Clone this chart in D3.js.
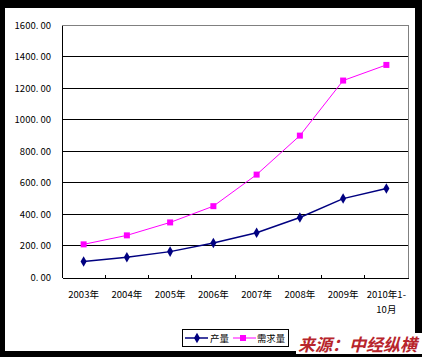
<!DOCTYPE html>
<html><head><meta charset="utf-8">
<script src="https://cdn.jsdelivr.net/npm/d3@7"></script>
<style>body{margin:0;background:#000;}svg{display:block;}</style>
</head><body>
<svg id="c" width="422" height="357"></svg>
<script>
const categories = ["2003年","2004年","2005年","2006年","2007年","2008年","2009年","2010年1-\n10月"];
const production = [101,128,164,218,284,380,500,564];
const demand = [210,267,349,452,652,899,1248,1347];
const yTicks = [0,200,400,600,800,1000,1200,1400,1600];
const seriesNames = ["产量","需求量"];
const sourceText = "来源：中经纵横";

const svg = d3.select("#c");
svg.append("rect").attr("x",0).attr("y",0).attr("width",422).attr("height",357).attr("fill","#000");
svg.append("rect").attr("x",5).attr("y",8).attr("width",410).attr("height",343).attr("fill","#fff");

const L=62, R=408, T=25, B=277.5;
const x = d3.scaleBand().domain(categories).range([L,R]);
const y = d3.scaleLinear().domain([0,1600]).range([B,T]);
const font = "'Noto Sans CJK SC', 'DejaVu Sans', sans-serif";

// gridlines
svg.append("g").selectAll("line").data(yTicks.filter(d=>d>0 && d<1600)).join("line")
  .attr("x1",L).attr("x2",R).attr("y1",d=>y(d)).attr("y2",d=>y(d))
  .attr("stroke","#000").attr("stroke-width",1).attr("shape-rendering","crispEdges");
// plot border top/right gray
svg.append("path").attr("d",`M${L},${y(1600)}H${R}V${B}`).attr("fill","none")
  .attr("stroke","#808080").attr("stroke-width",1).attr("shape-rendering","crispEdges");

// y axis
const yAxis = d3.axisLeft(y).tickValues(yTicks).tickSize(0).tickPadding(11)
  .tickFormat(d=>d3.format(".2f")(d).replace(".", ". "));
const gy = svg.append("g").attr("transform",`translate(${L},0)`).call(yAxis);
gy.select(".domain").attr("stroke","#000").attr("shape-rendering","crispEdges");
gy.selectAll("text").attr("font-family",font).attr("font-size",9.5).attr("fill","#000");

// x axis
const xAxis = d3.axisBottom(x).tickSize(0).tickFormat("");
const gx = svg.append("g").attr("transform",`translate(0,${B})`).call(xAxis);
gx.select(".domain").attr("stroke","#000").attr("shape-rendering","crispEdges");
// boundary ticks
const bounds = categories.map(c=>x(c)).concat([R]);
svg.append("g").selectAll("line").data(bounds.slice(1,-1)).join("line")
  .attr("x1",d=>d).attr("x2",d=>d).attr("y1",B).attr("y2",B-3)
  .attr("stroke","#000").attr("shape-rendering","crispEdges");
// x labels
const xl = svg.append("g");
categories.forEach(c=>{
  const lines = c.split("\n");
  const t = xl.append("text").attr("x",x(c)+x.bandwidth()/2).attr("y",298)
    .attr("text-anchor","middle").attr("font-family",font).attr("font-size",9.5).attr("fill","#000");
  lines.forEach((s,i)=>t.append("tspan").attr("x",x(c)+x.bandwidth()/2).attr("dy",i?15:0).text(s));
});

const cx = c=>x(c)+x.bandwidth()/2;
const line = d3.line().x((d,i)=>cx(categories[i])).y(d=>y(d));
const navy="#000080", mag="#FF00FF";
svg.append("path").datum(production).attr("d",line).attr("fill","none").attr("stroke",navy).attr("stroke-width",1.5);
svg.append("path").datum(demand).attr("d",line).attr("fill","none").attr("stroke",mag).attr("stroke-width",1);
const diamond = d3.symbol().type(d3.symbolDiamond).size(32);
svg.append("g").selectAll("path").data(production).join("path")
  .attr("d",diamond).attr("transform",(d,i)=>`translate(${cx(categories[i])},${y(d)})`).attr("fill",navy);
svg.append("g").selectAll("rect").data(demand).join("rect")
  .attr("x",(d,i)=>cx(categories[i])-3).attr("y",d=>y(d)-3).attr("width",6).attr("height",6).attr("fill",mag);

// legend
const lg = svg.append("g");
lg.append("rect").attr("x",182.5).attr("y",329.5).attr("width",106).attr("height",17)
  .attr("fill","#fff").attr("stroke","#000").attr("stroke-width",1);
lg.append("line").attr("x1",185).attr("x2",208).attr("y1",338).attr("y2",338).attr("stroke",navy).attr("stroke-width",1.5);
lg.append("path").attr("d",diamond).attr("transform","translate(197,338)").attr("fill",navy);
lg.append("text").attr("x",210).attr("y",342).attr("font-family",font).attr("font-size",9.5)
  .attr("textLength",19).attr("lengthAdjust","spacingAndGlyphs").text(seriesNames[0]);
lg.append("line").attr("x1",233).attr("x2",256).attr("y1",338).attr("y2",338).attr("stroke",mag).attr("stroke-width",1);
lg.append("rect").attr("x",240).attr("y",335).attr("width",6).attr("height",6).attr("fill",mag);
lg.append("text").attr("x",257).attr("y",342).attr("font-family",font).attr("font-size",9.5)
  .attr("textLength",28).attr("lengthAdjust","spacingAndGlyphs").text(seriesNames[1]);

// source
svg.append("rect").attr("x",296).attr("y",333).attr("width",126).attr("height",21).attr("fill","#fff");
svg.append("text").attr("x",298).attr("y",351).attr("font-family",font).attr("font-size",17)
  .attr("font-weight","bold").attr("font-style","italic").attr("fill","#b8252c")
  .attr("textLength",119).attr("lengthAdjust","spacingAndGlyphs").text(sourceText);
</script>
</body></html>
